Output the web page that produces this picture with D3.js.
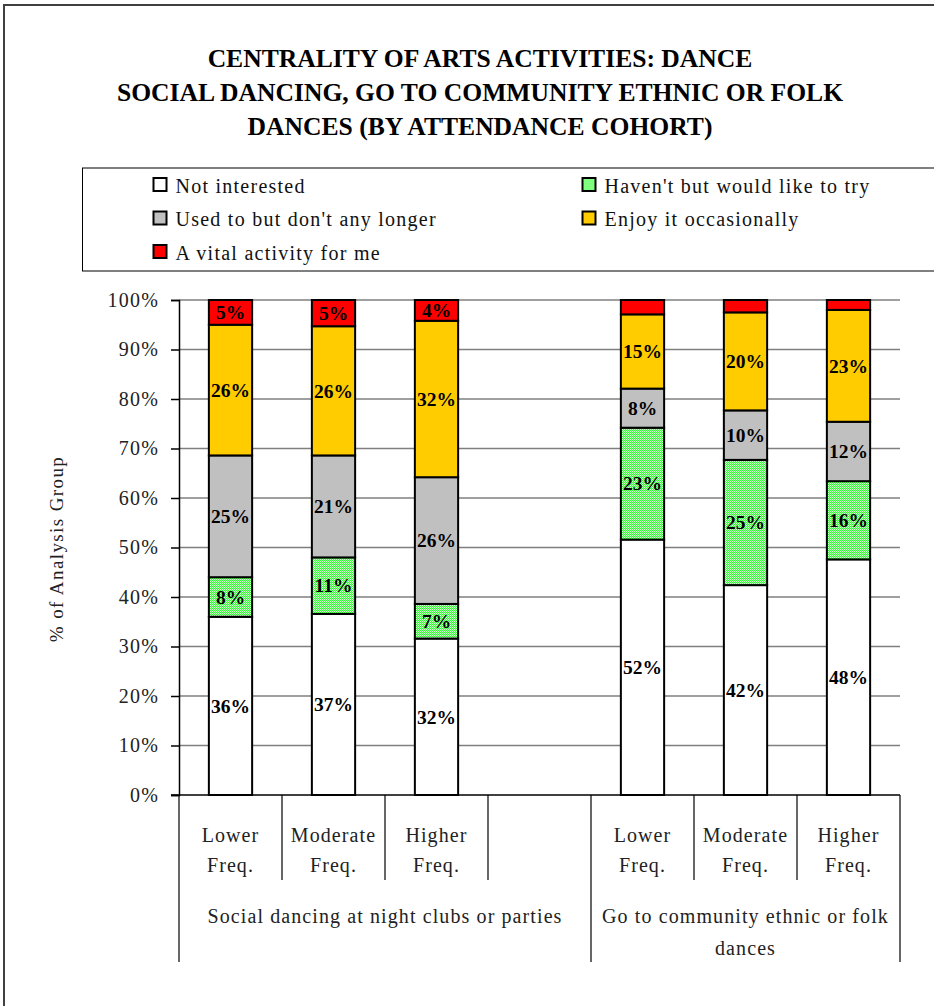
<!DOCTYPE html>
<html>
<head>
<meta charset="utf-8">
<script src="https://cdn.jsdelivr.net/npm/d3@7"></script>
<style>
  html, body { margin: 0; padding: 0; background: #fff; }
  svg { display: block; }
</style>
</head>
<body>
<svg id="chart" width="934" height="1006"></svg>
<script>
// Attendance cohorts within each activity
const cohorts = ["Lower Freq.", "Moderate Freq.", "Higher Freq."];
const activities = ["Social dancing at night clubs or parties", "Go to community ethnic or folk dances"];
const activityLines = [["Social dancing at night clubs or parties"], ["Go to community ethnic or folk", "dances"]];

// Share of each analysis group (%) — order: social dancing L/M/H, folk dances L/M/H
const notInterested = [36.0, 36.6, 31.6, 51.6, 42.4, 47.6];
const wouldLikeToTry = [8.0, 11.4, 7.0, 22.6, 25.3, 15.8];
const usedTo = [24.6, 20.6, 25.6, 7.9, 10.0, 12.0];
const enjoyOccasionally = [26.4, 26.1, 31.6, 15.0, 19.8, 22.6];
const vitalActivity = [5.0, 5.3, 4.2, 2.9, 2.5, 2.0];

const seriesNames = ["Not interested", "Haven't but would like to try", "Used to but don't any longer", "Enjoy it occasionally", "A vital activity for me"];
const seriesValues = [notInterested, wouldLikeToTry, usedTo, enjoyOccasionally, vitalActivity];
const yTicks = [0, 10, 20, 30, 40, 50, 60, 70, 80, 90, 100];

const titleLines = ["CENTRALITY OF ARTS ACTIVITIES: DANCE", "SOCIAL DANCING, GO TO COMMUNITY ETHNIC OR FOLK", "DANCES (BY ATTENDANCE COHORT)"];

const svg = d3.select("#chart");
const font = '"Liberation Serif", "Times New Roman", serif';

// pattern for the "would like to try" fill
const defs = svg.append("defs");
const pat = defs.append("pattern").attr("id", "greenCheck")
  .attr("width", 2).attr("height", 2).attr("patternUnits", "userSpaceOnUse");
pat.append("rect").attr("width", 2).attr("height", 2).attr("fill", "#c8ffc8");
pat.append("rect").attr("width", 1).attr("height", 1).attr("fill", "#33ff33");
pat.append("rect").attr("x", 1).attr("y", 1).attr("width", 1).attr("height", 1).attr("fill", "#33ff33");

const fills = ["#ffffff", "url(#greenCheck)", "#c0c0c0", "#ffcc00", "#ff0000"];

// outer frame
svg.append("path").attr("d", "M4,1010 V5 H940").attr("fill", "none").attr("stroke", "#404040").attr("stroke-width", 2);

// title
svg.append("g").selectAll("text").data(titleLines).join("text")
  .attr("x", 480).attr("y", (d, i) => 67 + i * 34)
  .attr("text-anchor", "middle")
  .style("font-family", font).style("font-weight", "bold").style("font-size", "25.6px")
  .attr("fill", "#000").text(d => d);

// legend
const legend = svg.append("g");
legend.append("rect").attr("x", 82.5).attr("y", 168).attr("width", 870).attr("height", 103)
  .attr("fill", "#fff").attr("stroke", "#000").attr("stroke-width", 1);
const legendPos = [
  { x: 153.5, y: 178 }, { x: 582.5, y: 178 },
  { x: 153.5, y: 211.5 }, { x: 582.5, y: 211.5 },
  { x: 153.5, y: 245 }
];
const legendOrder = [0, 1, 2, 3, 4];
const li = legend.selectAll("g.item").data(legendOrder).join("g").attr("class", "item")
  .attr("transform", (d, i) => `translate(${legendPos[i].x},${legendPos[i].y})`);
li.append("rect").attr("width", 13).attr("height", 13)
  .attr("fill", d => fills[d]).attr("stroke", "#000").attr("stroke-width", 2);
li.append("text").attr("x", 22).attr("y", 14.5)
  .style("font-family", font).style("font-size", "20px").style("letter-spacing", "1.25px")
  .attr("fill", "#111").text(d => seriesNames[d]);

// scales
const slots = ["a0", "a1", "a2", "gap", "b0", "b1", "b2"];
const x = d3.scaleBand().domain(slots).range([179, 900]).padding(0);
const y = d3.scaleLinear().domain([0, 100]).range([795, 300]);
const barW = x.bandwidth() * 0.42;
const slotOf = i => (i < 3 ? "a" + i : "b" + (i - 3));

// gridlines
svg.append("g").selectAll("line").data(yTicks.filter(t => t > 0)).join("line")
  .attr("x1", 179).attr("x2", 900).attr("y1", d => y(d)).attr("y2", d => y(d))
  .attr("stroke", "#7f7f7f").attr("stroke-width", 1.5);

// y axis
const yAxis = svg.append("g").attr("transform", "translate(179,0)")
  .call(d3.axisLeft(y).tickValues(yTicks).tickFormat(d => d + "%").tickSize(8).tickPadding(12));
yAxis.select(".domain").attr("stroke", "#000").attr("stroke-width", 1.5);
yAxis.selectAll(".tick line").attr("stroke", "#000").attr("stroke-width", 1.5);
yAxis.selectAll(".tick text").style("font-family", font).style("font-size", "20px")
  .style("letter-spacing", "1.2px").attr("fill", "#222");

// y axis title
svg.append("text").attr("transform", "translate(63,549) rotate(-90)")
  .attr("text-anchor", "middle")
  .style("font-family", font).style("font-size", "19px").style("letter-spacing", "1.4px")
  .attr("fill", "#222").text("% of Analysis Group");

// stacked bars
const stack = [];
for (let i = 0; i < 6; i++) {
  let base = 0;
  seriesValues.forEach((arr, s) => {
    stack.push({ i, s, v: arr[i], y0: base, y1: base + arr[i] });
    base += arr[i];
  });
}
const bars = svg.append("g");
bars.selectAll("rect").data(stack).join("rect")
  .attr("x", d => x(slotOf(d.i)) + (x.bandwidth() - barW) / 2)
  .attr("width", barW)
  .attr("y", d => y(d.y1))
  .attr("height", d => y(d.y0) - y(d.y1))
  .attr("fill", d => fills[d.s])
  .attr("stroke", "#000").attr("stroke-width", 2);

// value labels
bars.selectAll("text").data(stack.filter(d => d.v >= 3.5)).join("text")
  .attr("x", d => x(slotOf(d.i)) + x.bandwidth() / 2)
  .attr("y", d => y((d.y0 + d.y1) / 2))
  .attr("dy", "0.35em").attr("text-anchor", "middle")
  .style("font-family", font).style("font-weight", "bold").style("font-size", "19.5px")
  .attr("fill", "#000").text(d => Math.round(d.v) + "%");

// x axis baseline
svg.append("line").attr("x1", 171).attr("x2", 900).attr("y1", y(0)).attr("y2", y(0))
  .attr("stroke", "#000").attr("stroke-width", 1.5);

// category dividers
const inner = [x("a1"), x("a2"), x("gap"), x("b1"), x("b2")];
svg.append("g").selectAll("line").data(inner).join("line")
  .attr("x1", d => d).attr("x2", d => d).attr("y1", y(0)).attr("y2", 880)
  .attr("stroke", "#000").attr("stroke-width", 1.2);
const outer = [x("a0"), x("b0"), x("b2") + x.bandwidth()];
svg.append("g").selectAll("line").data(outer).join("line")
  .attr("x1", d => d).attr("x2", d => d).attr("y1", y(0)).attr("y2", 962)
  .attr("stroke", "#000").attr("stroke-width", 1.2);

// cohort labels
const catG = svg.append("g");
for (let i = 0; i < 6; i++) {
  const cx = x(slotOf(i)) + x.bandwidth() / 2;
  const words = cohorts[i % 3].split(" ");
  catG.append("text").attr("text-anchor", "middle")
    .style("font-family", font).style("font-size", "20px").style("letter-spacing", "1.1px")
    .attr("fill", "#222")
    .selectAll("tspan").data(words).join("tspan")
    .attr("x", cx).attr("y", (d, k) => 842 + k * 30).text(d => d);
}

// activity labels
const groupCenters = [(x("a0") + x("b0")) / 2, (x("b0") + x("b2") + x.bandwidth()) / 2];
activityLines.forEach((lines, g) => {
  svg.append("text").attr("text-anchor", "middle")
    .style("font-family", font).style("font-size", "20px").style("letter-spacing", "1.1px")
    .attr("fill", "#222")
    .selectAll("tspan").data(lines).join("tspan")
    .attr("x", groupCenters[g]).attr("y", (d, k) => 923 + k * 32).text(d => d);
});
</script>
</body>
</html>
